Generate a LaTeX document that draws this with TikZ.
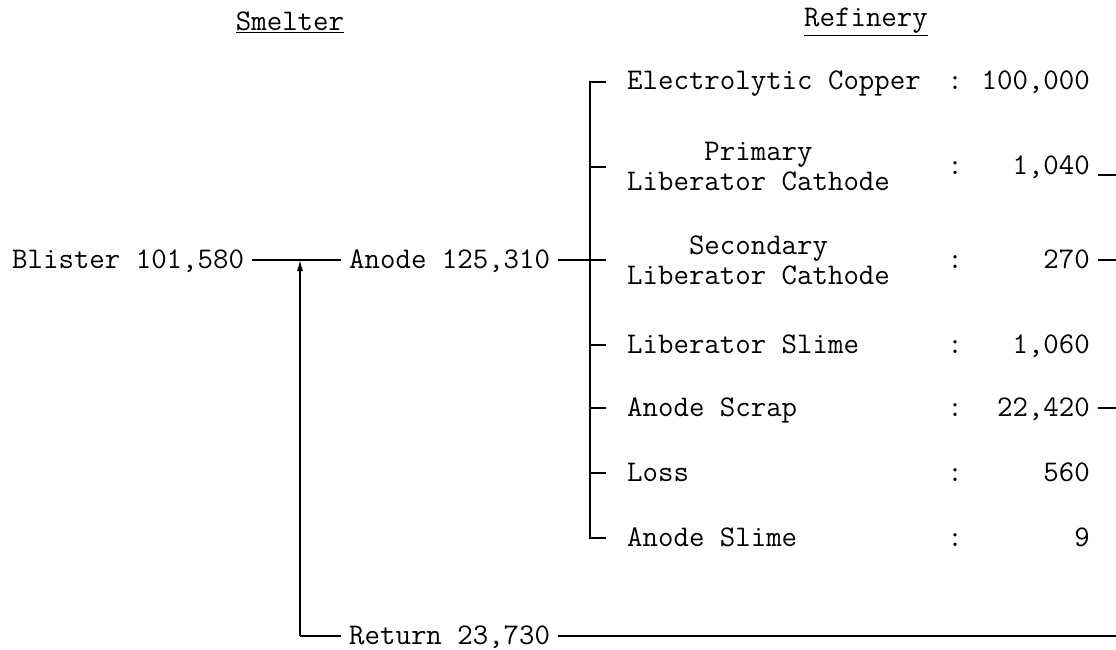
\documentclass[tikz,border=0pt]{standalone}
\usetikzlibrary{arrows.meta,positioning,calc}
\begin{document}
\begin{tikzpicture}[
   x=1pt,y=-1pt,
   font=\fontsize{30}{30}\selectfont\ttfamily,
   txt/.style ={inner xsep=8pt,inner ysep=0pt,text height=19pt,text depth=3pt},
   item/.style={anchor=west,inner xsep=21pt,inner ysep=0pt,text height=19pt,text depth=3pt},
   item2/.style={anchor=west,inner xsep=21pt,inner ysep=0pt,align=center},
   colon/.style={inner sep=0pt,text height=19pt,text depth=3pt},
   val/.style ={anchor=east,inner xsep=8pt,inner ysep=0pt,text height=19pt,text depth=3pt},
   head/.style={inner sep=0pt},
   ln/.style  ={line width=1.1pt,black},
   arr/.style ={ln,-{Latex[length=11pt,width=6pt]}}]
   \useasboundingbox (0,0) rectangle (1116,650);
   % column heads
   \node[head] (smelter)  at (290,22) {\underline{Smelter}};
   \node[head] (refinery) at (866,22) {\underline{Refinery}};
   % smelter side
   \node[txt,anchor=west] (blister) at (4,260)   {Blister 101,580};
   \node[txt,anchor=west] (anode)   at (341,260) {Anode 125,310};
   \node[txt,anchor=west] (ret)     at (341,636) {Return 23,730};
   % refinery products
   \node[item]  (copper)  at (606,82)  {Electrolytic Copper};
   \node[item2] (primary) at (606,167) {Primary\\Liberator Cathode};
   \node[item2] (second)  at (606,260) {Secondary\\Liberator Cathode};
   \node[item]  (lslime)  at (606,345) {Liberator Slime};
   \node[item]  (scrap)   at (606,408) {Anode Scrap};
   \node[item]  (loss)    at (606,473) {Loss};
   \node[item]  (aslime)  at (606,538) {Anode Slime};
   \foreach \y in {82,167,260,345,408,473,538} \node[colon] at (955,\y) {:};
   \node[val] (copperval)  at (1098,82)  {100,000};
   \node[val] (primval)    at (1098,167) {1,040};
   \node[val] (secval)     at (1098,260) {270};
   \node[val] (lslimeval)  at (1098,345) {1,060};
   \node[val] (scrapval)   at (1098,408) {22,420};
   \node[val] (lossval)    at (1098,473) {560};
   \node[val] (aslimeval)  at (1098,538) {9};
   \coordinate (jn)   at (300,260);
   \coordinate (brk)  at (590,0);
   \coordinate (edge) at (1116,0);
   % flows
   \draw[ln] (blister) -- (anode);
   \draw[arr] (jn |- ret) -- (jn);
   \draw[ln] (jn |- ret) -- (ret);
   \draw[ln] (ret) -- (ret -| edge);
   \draw[ln] (anode) -- (anode -| brk);
   \draw[ln] (copper.west) -- (copper.west -| brk) |- (aslime.west);
   \draw[ln] (primary.west -| brk) -- (primary.west);
   \draw[ln] (second.west -| brk) -- (second.west);
   \draw[ln] (lslime.west -| brk) -- (lslime.west);
   \draw[ln] (scrap.west -| brk) -- (scrap.west);
   \draw[ln] (loss.west -| brk) -- (loss.west);
   \draw[ln] (primval.base east) -- (primval.base east -| edge);
   \draw[ln] (secval) -- (secval -| edge);
   \draw[ln] (scrapval) -- (scrapval -| edge);
\end{tikzpicture}
\end{document}
